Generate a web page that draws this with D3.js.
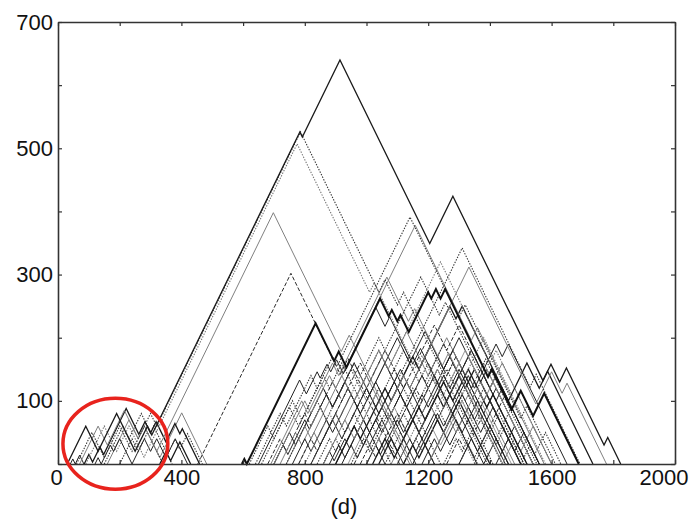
<!DOCTYPE html>
<html>
<head>
<meta charset="utf-8">
<script src="https://cdn.jsdelivr.net/npm/d3@7"></script>
<style>
  body { margin: 0; background: #fff; }
  .axis text { font-family: "Liberation Sans", Arial, sans-serif; font-size: 22px; fill: #111; }
  .axis path, .axis line { stroke: #333; }
  .curve { fill: none; stroke-linejoin: miter; }
</style>
</head>
<body>
<div id="chart"></div>
<script>
// axis setup
var xTicks = [0, 200, 400, 600, 800, 1000, 1200, 1400, 1600, 1800, 2000];
var xLabels = [0, 400, 800, 1200, 1600, 2000];
var yTicks = [0, 100, 200, 300, 400, 500, 600, 700];
var yLabels = [100, 300, 500, 700];
var xLabelText = "(d)";

// turning points of each mountain path, [position, height]
// the big outer ones
var P1 = [[30,0],[90,60],[130,20],[190,80],[250,20],[290,60],[304,46],[784,526],[792,518],[914,640],[1205,349],[1280,424],[1572,132],[1598,158],[1626,130],[1648,152],[1770,30],[1782,42],[1824,0]];
var P2 = [[60,0],[110,50],[150,10],[200,60],[240,20],[300,80],[320,60],[786,526],[1040,272],[1060,292],[1100,252],[1120,272],[1392,0]];
var P2b = [[90,0],[150,60],[190,20],[230,60],[279,11],[775,507],[1010,272],[1025,287],[1160,152],[1180,172],[1352,0]];
var P3 = [[70,0],[130,60],[160,30],[215,85],[260,40],[280,60],[320,20],[698,398],[918,178],[944,204],[1148,0]];
var P4 = [[453,0],[755,302],[915,142],[940,167],[1107,0]];
var P5 = [[596,0],[604,8],[612,0],[835,223],[895,163],[910,178],[935,153],[1044,262],[1072,234],[1082,244],[1100,226],[1110,236],[1137,209],[1200,272],[1210,262],[1225,277],[1240,262],[1255,277],[1394,138],[1406,150],[1470,86],[1500,116],[1540,76],[1576,112],[1688,0]];
var P6 = [[640,0],[720,80],[740,60],[820,140],[840,120],[890,170],[905,155],[1141,391],[1300,232],[1320,252],[1500,72],[1520,92],[1612,0]];
var P8 = [[820,0],[900,80],[930,50],[1000,120],[1030,90],[1090,150],[1104,136],[1310,342],[1530,122],[1550,142],[1692,0]];
var P9 = [[860,0],[930,70],[960,40],[1030,110],[1060,80],[1120,140],[1140,120],[1332,312],[1549,95],[1600,146],[1634,112],[1650,128],[1778,0]];

// upper part of the middle cluster
var U1 = [[690,0],[790,100],[810,80],[890,160],[910,140],[1066,296],[1136,226],[1156,246],[1246,156],[1266,176],[1442,0]];
var U2 = [[740,0],[840,100],[870,70],[960,160],[980,140],[1040,200],[1060,180],[1176,296],[1236,236],[1256,256],[1366,146],[1386,166],[1552,0]];
var U3 = [[700,0],[800,100],[820,80],[880,140],[900,120],[1158,378],[1340,196],[1360,216],[1576,0]];
var U4 = [[800,0],[880,80],[900,60],[980,140],[1000,120],[1060,180],[1080,160],[1240,320],[1400,160],[1420,180],[1600,0]];
var R1 = [[900,0],[960,60],[980,40],[1060,120],[1080,100],[1150,170],[1170,150],[1270,250],[1290,230],[1310,250],[1460,100],[1520,160],[1560,120],[1587,147],[1734,0]];
var R2 = [[1100,0],[1200,100],[1220,80],[1300,160],[1320,140],[1380,200],[1580,0]];
var R3 = [[1150,0],[1230,80],[1250,60],[1330,140],[1350,120],[1420,190],[1440,170],[1460,190],[1650,0]];
var R4 = [[1200,0],[1270,70],[1290,50],[1360,120],[1380,100],[1440,160],[1600,0]];

// lower, dense part of the middle cluster
var C2 = [[650,0],[783,133],[805,111],[840,146],[850,136],[872,158],[884,146],[903,165],[925,143],[1030,248],[1060,218],[1075,233],[1150,158],[1175,183],[1358,0]];
var C3 = [[660,0],[750,90],[780,60],[850,130],[890,90],[950,150],[980,120],[1040,180],[1080,140],[1120,180],[1170,130],[1200,160],[1360,0]];
var C4 = [[700,0],[750,50],[770,30],[860,120],[890,90],[960,160],[1010,110],[1100,200],[1140,160],[1190,210],[1250,150],[1280,180],[1460,0]];
var C5 = [[740,0],[800,60],[820,40],[920,140],[960,100],[1040,180],[1070,150],[1130,210],[1200,140],[1260,200],[1310,150],[1330,170],[1500,0]];
var C6 = [[780,0],[820,40],[840,20],[940,120],[970,90],[1060,180],[1120,120],[1220,220],[1260,180],[1300,220],[1400,120],[1420,140],[1560,0]];
var C7 = [[820,0],[890,70],[920,40],[1000,120],[1040,80],[1110,150],[1140,120],[1210,190],[1250,150],[1300,200],[1370,130],[1390,150],[1540,0]];
var C8 = [[860,0],[900,40],[920,20],[1010,110],[1050,70],[1150,170],[1190,130],[1250,190],[1300,140],[1340,180],[1400,120],[1420,140],[1560,0]];
var C9 = [[900,0],[960,60],[990,30],[1050,90],[1070,70],[1130,130],[1180,80],[1270,170],[1300,140],[1340,180],[1420,100],[1440,120],[1560,0]];
var C10 = [[940,0],[990,50],[1020,20],[1090,90],[1130,50],[1230,150],[1260,120],[1320,180],[1360,140],[1380,160],[1540,0]];
var C11 = [[980,0],[1010,30],[1030,10],[1100,80],[1130,50],[1220,140],[1260,100],[1310,150],[1340,120],[1370,150],[1520,0]];
var C12 = [[1020,0],[1060,40],[1090,10],[1170,90],[1190,70],[1250,130],[1280,100],[1330,150],[1390,90],[1410,110],[1520,0]];
var C13 = [[1060,0],[1110,50],[1140,20],[1220,100],[1240,80],[1300,140],[1350,90],[1380,120],[1500,0]];
var C14 = [[1100,0],[1140,40],[1160,20],[1220,80],[1250,50],[1310,110],[1350,70],[1390,110],[1500,0]];
var C15 = [[1150,0],[1210,60],[1240,30],[1310,100],[1340,70],[1370,100],[1470,0]];
var C16 = [[1200,0],[1250,50],[1270,30],[1330,90],[1370,50],[1410,90],[1500,0]];
var C17 = [[1250,0],[1290,40],[1310,20],[1370,80],[1400,50],[1430,80],[1510,0]];
var C18 = [[880,0],[910,30],[930,10],[980,60],[1010,30],[1050,70],[1120,0]];
var C19 = [[620,0],[680,60],[700,40],[760,100],[790,70],[860,140],[880,120],[920,160],[1080,0]];
var C20 = [[680,0],[720,40],[740,20],[800,80],[820,60],[890,130],[920,100],[980,160],[1010,130],[1050,170],[1220,0]];
var C21 = [[720,0],[770,50],[790,30],[850,90],[880,60],[940,120],[960,100],[1000,140],[1140,0]];
var C22 = [[760,0],[800,40],[820,20],[870,70],[890,50],[950,110],[980,80],[1030,130],[1060,100],[1090,130],[1220,0]];
var C23 = [[1300,0],[1340,40],[1360,20],[1400,60],[1460,0]];
var C24 = [[1000,0],[1040,40],[1060,20],[1120,80],[1140,60],[1200,120],[1220,100],[1280,160],[1440,0]];
var C25 = [[1080,0],[1130,50],[1150,30],[1210,90],[1230,70],[1290,130],[1320,100],[1350,130],[1480,0]];
var C26 = [[1350,0],[1400,50],[1420,30],[1450,60],[1510,0]];
var C27 = [[1420,0],[1460,40],[1480,20],[1510,50],[1560,0]];
var D1 = [[840,0],[880,40],[900,20],[960,80],[980,60],[1040,120],[1060,100],[1100,140],[1240,0]];
var D2 = [[920,0],[950,30],[970,10],[1030,70],[1050,50],[1110,110],[1130,90],[1180,140],[1200,120],[1230,150],[1380,0]];
var D3 = [[960,0],[1000,40],[1020,20],[1080,80],[1100,60],[1160,120],[1180,100],[1240,160],[1260,140],[1290,170],[1460,0]];
var D4 = [[1040,0],[1080,40],[1100,20],[1150,70],[1170,50],[1230,110],[1250,90],[1300,140],[1320,120],[1350,150],[1500,0]];
var D5 = [[1120,0],[1160,40],[1180,20],[1240,80],[1260,60],[1320,120],[1340,100],[1380,140],[1520,0]];
var D6 = [[780,0],[830,50],[850,30],[900,80],[920,60],[980,120],[1000,100],[1060,160],[1220,0]];
var D7 = [[1180,0],[1220,40],[1240,20],[1290,70],[1310,50],[1360,100],[1380,80],[1420,120],[1540,0]];
var D8 = [[950,0],[990,40],[1010,20],[1070,80],[1090,60],[1150,120],[1170,100],[1210,140],[1230,120],[1260,150],[1410,0]];
var D9 = [[1000,0],[1030,30],[1045,15],[1100,70],[1120,50],[1180,110],[1200,90],[1250,140],[1270,120],[1300,150],[1450,0]];
var D10 = [[1260,0],[1300,40],[1320,20],[1380,80],[1400,60],[1450,110],[1560,0]];
var D11 = [[700,0],[730,30],[745,15],[800,70],[815,55],[870,110],[890,90],[930,130],[1060,0]];
var D12 = [[1300,0],[1330,30],[1350,10],[1400,60],[1420,40],[1470,90],[1560,0]];
var D13 = [[1380,0],[1420,40],[1440,20],[1480,60],[1540,0]];
var D14 = [[1440,0],[1480,40],[1500,20],[1540,60],[1600,0]];
var D15 = [[1500,0],[1530,30],[1545,15],[1580,50],[1630,0]];
var D16 = [[860,0],[880,20],[895,5],[930,40],[945,25],[990,70],[1010,50],[1060,100],[1160,0]];
var D17 = [[1120,0],[1150,30],[1170,10],[1230,70],[1250,50],[1300,100],[1400,0]];

// small cluster on the left (circled)
var L1 = [[85,0],[100,15],[112,3],[136,27],[148,15],[221,88],[262,47],[282,67],[300,49],[318,67],[350,35],[379,64],[395,48],[403,56],[459,0]];
var L2 = [[150,0],[210,60],[230,40],[270,80],[300,50],[310,60],[370,0]];
var L3 = [[160,0],[230,70],[260,40],[280,60],[330,10],[401,81],[482,0]];
var L4 = [[120,0],[130,10],[140,0],[170,30],[180,20],[200,40],[240,0],[280,40],[300,20],[320,40],[350,10],[380,40],[420,0]];
var L5 = [[200,0],[240,40],[260,20],[290,50],[340,0],[379,39],[395,23],[420,48],[468,0]];
var L6 = [[40,0],[48,8],[56,0],[70,14],[84,0]];
var L7 = [[330,0],[350,20],[365,5],[395,35],[430,0]];

// highlighted region (centre and radii, data units)
var circleCentre = [186, 32];
var circleRadii = [170, 72];

var width = 694, height = 524;
var margin = {left: 58, right: 19, top: 22, bottom: 60};

var svg = d3.select("#chart").append("svg")
    .attr("width", width)
    .attr("height", height)
    .style("background", "#fff");

var x = d3.scaleLinear().domain([0, 2000]).range([margin.left, width - margin.right]);
var y = d3.scaleLinear().domain([0, 700]).range([height - margin.bottom, margin.top]);

var line = d3.line().x(d => x(d[0])).y(d => y(d[1]));

var styles = {
    thick:  {stroke: "#111", w: 2.0, dash: null},
    dark:   {stroke: "#1a1a1a", w: 1.3, dash: null},
    thin:   {stroke: "#222", w: 1.0, dash: null},
    gray:   {stroke: "#808080", w: 1.0, dash: null},
    light:  {stroke: "#999", w: 1.0, dash: null},
    dotted: {stroke: "#333", w: 1.1, dash: "1.4,1.4"},
    dotgray:{stroke: "#777", w: 1.1, dash: "1.4,1.4"},
    dashed: {stroke: "#2a2a2a", w: 1.0, dash: "4,2"}
};

// back to front
var layers = [
    [D1,"dotted"],[D2,"thin"],[D3,"dashed"],[D4,"dark"],[D5,"dotted"],[D6,"gray"],[D7,"thin"],[D8,"dotted"],
    [D9,"thin"],[D10,"dashed"],[D11,"thin"],[D12,"dotted"],[D13,"thin"],[D14,"gray"],[D15,"dotted"],[D16,"thin"],[D17,"dark"],
    [C18,"thin"],[C19,"dotted"],[C20,"dashed"],[C21,"gray"],[C22,"thin"],[C23,"thin"],[C24,"dotted"],[C25,"gray"],[C26,"dotted"],[C27,"thin"],
    [C3,"dotted"],[C4,"thin"],[C5,"gray"],[C6,"dashed"],[C7,"thin"],[C8,"dotted"],[C9,"thin"],[C10,"light"],
    [C11,"dashed"],[C12,"dark"],[C13,"dotted"],[C14,"thin"],[C15,"light"],[C16,"thin"],[C17,"dotted"],
    [R2,"dotgray"],[R3,"thin"],[R4,"gray"],[R1,"dark"],
    [U1,"gray"],[U2,"dotted"],[U3,"gray"],[U4,"dotgray"],
    [C2,"thin"],
    [L2,"dotted"],[L3,"gray"],[L4,"thin"],[L5,"dotted"],[L6,"thin"],[L7,"dark"],[L1,"dark"],
    [P9,"gray"],[P8,"dotted"],[P6,"dotted"],[P4,"dashed"],[P3,"gray"],[P2b,"dotgray"],[P2,"dotted"],
    [P5,"thick"],[P1,"dark"]
];

var plot = svg.append("g");
plot.selectAll("path.curve")
    .data(layers)
    .enter().append("path")
    .attr("class", "curve")
    .attr("d", d => line(d[0]))
    .attr("stroke", d => styles[d[1]].stroke)
    .attr("stroke-width", d => styles[d[1]].w)
    .attr("stroke-dasharray", d => styles[d[1]].dash);

// frame with inward ticks on all four sides
var fmtX = v => xLabels.indexOf(v) >= 0 ? v : "";
var fmtY = v => yLabels.indexOf(v) >= 0 ? v : "";

var gx = svg.append("g").attr("class", "axis")
    .attr("transform", "translate(0," + y(0) + ")")
    .call(d3.axisBottom(x).tickValues(xTicks).tickFormat(fmtX).tickSizeInner(-4).tickSizeOuter(0).tickPadding(5));
svg.append("g").attr("class", "axis")
    .attr("transform", "translate(0," + y(700) + ")")
    .call(d3.axisTop(x).tickValues(xTicks).tickFormat("").tickSizeInner(-4).tickSizeOuter(0));
svg.append("g").attr("class", "axis")
    .attr("transform", "translate(" + x(0) + ",0)")
    .call(d3.axisLeft(y).tickValues(yTicks).tickFormat(fmtY).tickSizeInner(-4).tickSizeOuter(0).tickPadding(5));
svg.append("g").attr("class", "axis")
    .attr("transform", "translate(" + x(2000) + ",0)")
    .call(d3.axisRight(y).tickValues(yTicks).tickFormat("").tickSizeInner(-4).tickSizeOuter(0));

svg.selectAll(".axis path.domain").attr("stroke-width", 1.6);
svg.selectAll(".axis line").attr("stroke-width", 1.2);

// the "2000" label sits pulled in from the corner in the original
gx.selectAll(".tick text").filter(d => d === 2000).attr("text-anchor", "end").attr("dx", "13");
gx.selectAll(".tick text").filter(d => d === 0).attr("dx", "-2");

svg.append("text")
    .attr("x", 344)
    .attr("y", 514)
    .attr("text-anchor", "middle")
    .style("font-family", "Liberation Sans, Arial, sans-serif")
    .style("font-size", "22px")
    .style("fill", "#111")
    .text(xLabelText);

svg.append("ellipse")
    .attr("cx", x(circleCentre[0]))
    .attr("cy", y(circleCentre[1]))
    .attr("rx", x(circleRadii[0]) - x(0))
    .attr("ry", y(0) - y(circleRadii[1]))
    .attr("fill", "none")
    .attr("stroke", "#e8231d")
    .attr("stroke-width", 3.5);
</script>
</body>
</html>
